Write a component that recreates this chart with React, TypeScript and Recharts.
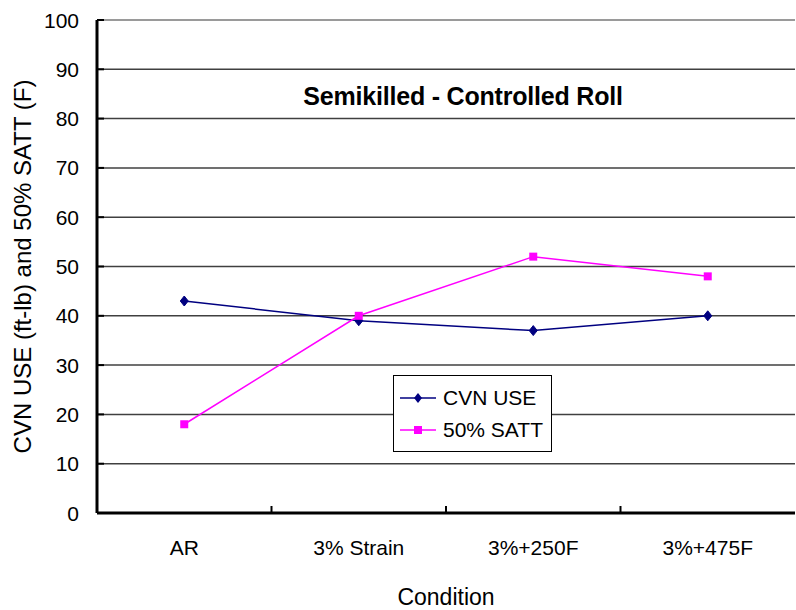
import React from "react";
import {
  LineChart,
  Line,
  XAxis,
  YAxis,
  CartesianGrid,
  Legend,
  ReferenceLine,
} from "recharts";

const conditions = ["AR", "3% Strain", "3%+250F", "3%+475F"];
const cvnUse = [43, 39, 37, 40];
const satt50 = [18, 40, 52, 48];
const yTicks = [0, 10, 20, 30, 40, 50, 60, 70, 80, 90, 100];

const data = conditions.map((c, i) => ({
  condition: c,
  cvn: cvnUse[i],
  satt: satt50[i],
}));

const W = 796;
const H = 610;
const PLOT_LEFT = 97;
const PLOT_RIGHT = 795;
const HALF_BAND = (PLOT_RIGHT - PLOT_LEFT) / (conditions.length * 2);
const FONT = "'Liberation Sans', Arial, sans-serif";

const NAVY = "#000080";
const MAGENTA = "#ff00ff";

const X_TICK_MARGIN = 27;
const Y_TICK_MARGIN = 18;

function XTick(props: any) {
  const { x, y, payload } = props;
  const axisY = y - X_TICK_MARGIN;
  return (
    <g>
      <line
        x1={x - HALF_BAND}
        x2={x - HALF_BAND}
        y1={axisY}
        y2={axisY - 7}
        stroke="#000"
        strokeWidth={2}
      />
      <text
        x={x}
        y={y}
        dy="0.72em"
        textAnchor="middle"
        fontSize={21}
        fontFamily={FONT}
        fill="#000"
      >
        {payload.value}
      </text>
    </g>
  );
}

function YTick(props: any) {
  const { x, y, payload } = props;
  const axisX = x + Y_TICK_MARGIN;
  return (
    <g>
      <line x1={axisX} x2={axisX + 7} y1={y} y2={y} stroke="#000" strokeWidth={2} />
      <text
        x={x}
        y={y}
        dy="0.36em"
        textAnchor="end"
        fontSize={21}
        fontFamily={FONT}
        fill="#000"
      >
        {payload.value}
      </text>
    </g>
  );
}

function Diamond(props: any) {
  const { cx, cy } = props;
  if (cx == null || cy == null) return null;
  return (
    <path
      d={`M${cx},${cy - 5} L${cx + 4},${cy} L${cx},${cy + 5} L${cx - 4},${cy} Z`}
      fill={NAVY}
      stroke={NAVY}
    />
  );
}

function Square(props: any) {
  const { cx, cy } = props;
  if (cx == null || cy == null) return null;
  return <rect x={cx - 4} y={cy - 4} width={8} height={8} fill={MAGENTA} />;
}

function LegendBox() {
  const rows = [
    { name: "CVN USE", color: NAVY, shape: "diamond" },
    { name: "50% SATT", color: MAGENTA, shape: "square" },
  ];
  return (
    <div
      style={{
        width: 159,
        height: 77,
        border: "1px solid #000",
        background: "#fff",
        fontFamily: FONT,
        fontSize: 21,
        color: "#000",
        paddingTop: 6,
        boxSizing: "border-box",
      }}
    >
      {rows.map((r) => (
        <div
          key={r.name}
          style={{ display: "flex", alignItems: "center", height: 32 }}
        >
          <svg width={49} height={20} style={{ flex: "none" }}>
            <line x1={6} x2={42} y1={10} y2={10} stroke={r.color} strokeWidth={1.5} />
            {r.shape === "diamond" ? (
              <path d="M24,5 L28,10 L24,15 L20,10 Z" fill={r.color} />
            ) : (
              <rect x={20} y={6} width={8} height={8} fill={r.color} />
            )}
          </svg>
          <span style={{ whiteSpace: "nowrap" }}>{r.name}</span>
        </div>
      ))}
    </div>
  );
}

export default function App() {
  return (
    <div
      style={{
        position: "absolute",
        left: 0,
        top: 0,
        width: W,
        height: H,
        background: "#fff",
      }}
    >
      <LineChart
        width={W}
        height={H}
        data={data}
        margin={{ top: 20, right: 1, bottom: 0, left: 0 }}
      >
        <CartesianGrid vertical={false} stroke="#404040" strokeWidth={1.5} />
        <ReferenceLine y={100} stroke="#9a9a9a" strokeWidth={2} />
        <XAxis
          dataKey="condition"
          height={97}
          padding={{ left: HALF_BAND, right: HALF_BAND }}
          axisLine={{ stroke: "#000", strokeWidth: 3 }}
          tickLine={false}
          tickSize={0}
          tickMargin={X_TICK_MARGIN}
          tick={<XTick />}
          interval={0}
          label={{
            content: (p: any) => {
              const vb = p.viewBox;
              return (
                <text
                  x={vb.x + vb.width / 2}
                  y={597}
                  dy="0.36em"
                  textAnchor="middle"
                  fontSize={23}
                  fontFamily={FONT}
                  fill="#000"
                >
                  Condition
                </text>
              );
            },
          }}
        />
        <YAxis
          width={97}
          domain={[0, 100]}
          ticks={yTicks}
          axisLine={{ stroke: "#000", strokeWidth: 3 }}
          tickLine={false}
          tickSize={0}
          tickMargin={Y_TICK_MARGIN}
          tick={<YTick />}
          interval={0}
          label={{
            content: (p: any) => {
              const vb = p.viewBox;
              const cy = vb.y + vb.height / 2;
              return (
                <text
                  x={22}
                  y={cy}
                  dy="0.36em"
                  textAnchor="middle"
                  fontSize={24}
                  fontFamily={FONT}
                  fill="#000"
                  transform={`rotate(-90, 22, ${cy})`}
                >
                  CVN USE (ft-lb) and 50% SATT (F)
                </text>
              );
            },
          }}
        />
        <YAxis
          yAxisId="right"
          orientation="right"
          width={0}
          domain={[0, 100]}
          tick={false}
          tickLine={false}
          axisLine={{ stroke: "#9a9a9a", strokeWidth: 2 }}
        />
        <Legend
          content={<LegendBox />}
          wrapperStyle={{
            position: "absolute",
            left: 393,
            top: 375,
            width: 0,
            height: 0,
            overflow: "visible",
          }}
        />
        <Line
          type="linear"
          dataKey="cvn"
          name="CVN USE"
          stroke={NAVY}
          strokeWidth={1.5}
          dot={<Diamond />}
          activeDot={false}
          isAnimationActive={false}
        />
        <Line
          type="linear"
          dataKey="satt"
          name="50% SATT"
          stroke={MAGENTA}
          strokeWidth={1.5}
          dot={<Square />}
          activeDot={false}
          isAnimationActive={false}
        />
      </LineChart>
      <div
        style={{
          position: "absolute",
          left: 263,
          top: 84,
          width: 400,
          textAlign: "center",
          fontFamily: FONT,
          fontWeight: "bold",
          fontSize: 25,
          lineHeight: "25px",
          letterSpacing: -0.2,
          color: "#000",
        }}
      >
        Semikilled - Controlled Roll
      </div>
    </div>
  );
}
